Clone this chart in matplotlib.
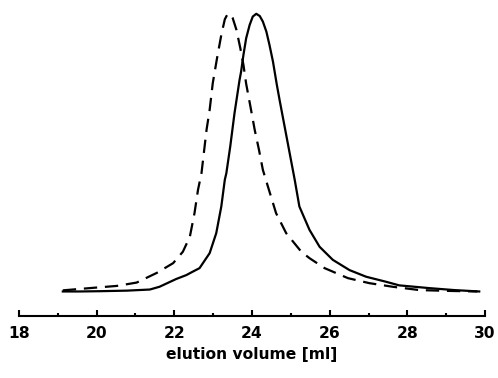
import matplotlib
matplotlib.use("Agg")
import matplotlib.pyplot as plt
from matplotlib.ticker import MultipleLocator

# ======== Data ========
# solid trace
vol_solid = [19.13, 19.57, 20.08, 20.78, 21.37, 21.62, 22.05, 22.31, 22.47, 22.65,
             22.91, 23.08, 23.21, 23.30, 23.34, 23.44, 23.55, 23.68, 23.72, 23.78,
             23.85, 23.94, 24.02, 24.11, 24.20, 24.28, 24.37, 24.45, 24.54, 24.64,
             24.71, 24.84, 24.97, 25.10, 25.22, 25.48, 25.74, 26.08, 26.51, 26.94,
             27.45, 27.79, 28.57, 29.21, 29.85]
abs_solid = [0.0, 0.0, 0.001, 0.003, 0.007, 0.017, 0.045, 0.059, 0.071, 0.084,
             0.138, 0.210, 0.306, 0.402, 0.426, 0.522, 0.642, 0.762, 0.792, 0.852,
             0.912, 0.960, 0.990, 1.0, 0.992, 0.972, 0.936, 0.888, 0.828, 0.744,
             0.690, 0.594, 0.498, 0.402, 0.306, 0.222, 0.161, 0.114, 0.077, 0.053,
             0.035, 0.022, 0.012, 0.005, 0.0]

# dashed trace
vol_dash = [19.13, 19.90, 20.52, 21.03, 21.55, 21.97, 22.22, 22.40, 22.52, 22.61,
            22.70, 22.76, 22.83, 22.91, 22.99, 23.10, 23.21, 23.30, 23.36, 23.41,
            23.46, 23.50, 23.60, 23.70, 23.78, 23.85, 23.96, 24.07, 24.18, 24.28,
            24.41, 24.62, 24.88, 25.27, 25.48, 25.87, 26.47, 27.02, 27.62, 28.31,
            29.08, 29.80]
abs_dash = [0.004, 0.013, 0.020, 0.032, 0.067, 0.102, 0.143, 0.197, 0.282, 0.366,
            0.426, 0.498, 0.582, 0.654, 0.750, 0.840, 0.924, 0.980, 0.996, 1.0,
            0.996, 0.986, 0.942, 0.876, 0.816, 0.748, 0.666, 0.582, 0.510, 0.438,
            0.378, 0.282, 0.210, 0.143, 0.120, 0.084, 0.048, 0.030, 0.017, 0.005,
            0.002, 0.0]

tick_vals = [18, 20, 22, 24, 26, 28, 30]
tick_labels = ["18", "20", "22", "24", "26", "28", "30"]

plt.rcParams["font.family"] = "DejaVu Sans"
plt.rcParams["font.weight"] = "bold"
plt.rcParams["xtick.labelsize"] = 11.2

fig = plt.figure(figsize=(4.98, 3.78), dpi=100)
ax = fig.add_axes([0.038, 0.165, 0.936, 0.822])

ax.plot(vol_solid, abs_solid, color="black", linewidth=1.6,
        solid_joinstyle="round")
ax.plot(vol_dash, abs_dash, color="black", linewidth=1.6, dashes=(6, 3.5),
        dash_joinstyle="round")

ax.set_xlim(18, 30)
ax.set_ylim(-0.087, 1.032)

for side in ["left", "right", "top"]:
    ax.spines[side].set_visible(False)
ax.spines["bottom"].set_linewidth(1.5)
ax.set_yticks([])

ax.set_xticks(tick_vals, tick_labels)
ax.xaxis.set_minor_locator(MultipleLocator(1))
ax.tick_params(axis="x", which="major", direction="in", length=4, width=1.5,
               pad=7.6, labelsize=11.2)
ax.tick_params(axis="x", which="minor", direction="in", length=2.5, width=1.5)
plt.setp(ax.get_xticklabels(), fontweight="bold")

ax.set_xlabel("elution volume [ml]", fontsize=11.2, fontweight="bold",
              labelpad=3.9)

fig.savefig("out.png", dpi=100)
